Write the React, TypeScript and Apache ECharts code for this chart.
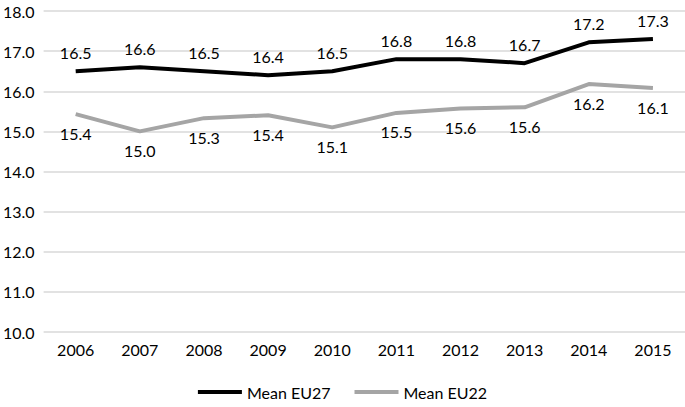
import React, { useEffect, useRef } from "react";
import * as echarts from "echarts";

const years = ["2006", "2007", "2008", "2009", "2010", "2011", "2012", "2013", "2014", "2015"];
const eu27 = [16.5, 16.6, 16.5, 16.4, 16.5, 16.8, 16.8, 16.7, 17.22, 17.3];
const eu22 = [15.43, 15.0, 15.33, 15.4, 15.1, 15.46, 15.57, 15.6, 16.18, 16.08];
const yTicks = { min: 10, max: 18, interval: 1 };

const FONT = "Lato";
const FS = 16;

export default function App() {
  const ref = useRef<HTMLDivElement>(null);
  useEffect(() => {
    if (!ref.current) return;
    document.body.style.margin = "0";
    const chart = echarts.init(ref.current, undefined, { renderer: "svg" });
    const fmt = (p: any) => Number(p.value).toFixed(1);
    chart.setOption({
      animation: false,
      grid: { left: 41, right: -2, top: 11, bottom: 75, containLabel: false },
      legend: {
        bottom: 2,
        left: "center",
        icon: "rect",
        itemWidth: 44,
        itemHeight: 4,
        itemGap: 24,
        textStyle: { fontFamily: FONT, fontSize: FS, color: "#000" },
        data: ["Mean EU27", "Mean EU22"],
      },
      xAxis: {
        type: "category",
        data: years,
        boundaryGap: true,
        axisLine: { show: false },
        axisTick: { show: false },
        axisLabel: { fontFamily: FONT, fontSize: FS, color: "#000", margin: 9 },
      },
      yAxis: {
        type: "value",
        min: yTicks.min,
        max: yTicks.max,
        interval: yTicks.interval,
        axisLine: { show: false },
        axisTick: { show: false },
        splitLine: { lineStyle: { color: "#d9d9d9", width: 1.5 } },
        axisLabel: {
          fontFamily: FONT,
          fontSize: FS,
          color: "#000",
          margin: 9,
          formatter: (v: number) => v.toFixed(1),
        },
      },
      series: [
        {
          name: "Mean EU27",
          type: "line",
          data: eu27,
          showSymbol: true,
          symbol: "circle",
          symbolSize: 0.1,
          lineStyle: { color: "#000", width: 4 },
          itemStyle: { color: "#000" },
          label: {
            show: true,
            position: "top",
            distance: 11,
            formatter: fmt,
            fontFamily: FONT,
            fontSize: FS,
            color: "#000",
          },
        },
        {
          name: "Mean EU22",
          type: "line",
          data: eu22,
          showSymbol: true,
          symbol: "circle",
          symbolSize: 0.1,
          lineStyle: { color: "#a5a5a5", width: 4 },
          itemStyle: { color: "#a5a5a5" },
          label: {
            show: true,
            position: "bottom",
            distance: 11,
            formatter: fmt,
            fontFamily: FONT,
            fontSize: FS,
            color: "#000",
          },
        },
      ],
    });
    return () => chart.dispose();
  }, []);
  return <div ref={ref} style={{ width: 685, height: 407 }} />;
}
